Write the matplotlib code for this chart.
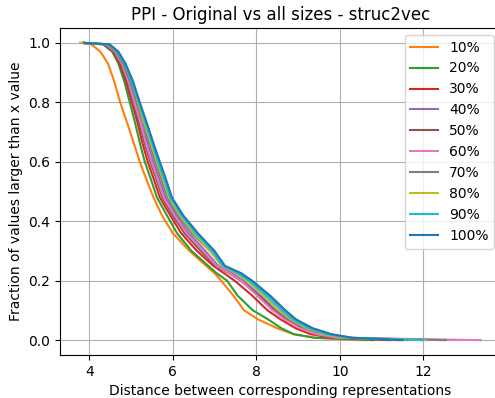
import matplotlib
matplotlib.use('Agg')
import matplotlib.pyplot as plt

# fraction levels and the x value where each curve crosses them
levels = [1.0, 0.995, 0.97, 0.93, 0.87, 0.8, 0.73, 0.67, 0.6, 0.54, 0.48, 0.42,
          0.36, 0.3, 0.25, 0.225, 0.2, 0.15, 0.1, 0.07, 0.04, 0.02, 0.008, 0.0]

sizes = ['10%', '20%', '30%', '40%', '50%', '60%', '70%', '80%', '90%', '100%']
colors = ['C1', 'C2', 'C3', 'C4', 'C5', 'C6', 'C7', 'C8', 'C9', 'C0']

x_10 = [3.78, 4.05, 4.27, 4.45, 4.6, 4.74, 4.91, 5.05, 5.21, 5.37, 5.54, 5.74,
        6.0, 6.4, 6.8, 7.0, 7.16, 7.45, 7.71, 8.04, 8.5, 8.9, 9.4, 10.6]
x_20 = [3.85, 4.33, 4.55, 4.7, 4.84, 4.97, 5.1, 5.2, 5.33, 5.48, 5.62, 5.86,
        6.1, 6.45, 6.85, 7.05, 7.3, 7.55, 7.92, 8.28, 8.6, 8.9, 9.4, 10.8]
x_30 = [3.85, 4.36, 4.58, 4.73, 4.88, 5.02, 5.16, 5.26, 5.40, 5.55, 5.69, 5.94,
        6.2, 6.58, 6.97, 7.23, 7.48, 7.90, 8.27, 8.58, 8.94, 9.3, 9.8, 11.2]
x_40 = [3.85, 4.42, 4.63, 4.79, 4.96, 5.10, 5.25, 5.38, 5.53, 5.68, 5.82, 6.08,
        6.38, 6.78, 7.09, 7.43, 7.69, 8.10, 8.47, 8.75, 9.13, 9.53, 10.03, 11.6]
x_50 = [3.86, 4.39, 4.60, 4.76, 4.91, 5.05, 5.20, 5.31, 5.46, 5.61, 5.75, 6.0,
        6.28, 6.67, 7.03, 7.35, 7.63, 8.06, 8.43, 8.72, 9.09, 9.49, 9.99, 11.4]
x_60 = [3.85, 4.40, 4.62, 4.78, 4.94, 5.08, 5.23, 5.34, 5.49, 5.64, 5.78, 6.04,
        6.33, 6.73, 7.05, 7.37, 7.64, 8.02, 8.39, 8.68, 9.05, 9.44, 9.94, 13.38]
x_70 = [3.86, 4.43, 4.65, 4.81, 4.98, 5.14, 5.30, 5.42, 5.58, 5.73, 5.87, 6.13,
        6.45, 6.89, 7.21, 7.61, 7.88, 8.31, 8.68, 8.93, 9.33, 9.77, 10.27, 12.54]
x_80 = [3.78, 4.48, 4.69, 4.86, 5.04, 5.17, 5.32, 5.46, 5.62, 5.77, 5.91, 6.17,
        6.5, 6.89, 7.17, 7.52, 7.78, 8.17, 8.54, 8.82, 9.2, 9.62, 10.12, 12.05]
x_90 = [3.88, 4.47, 4.68, 4.85, 5.02, 5.19, 5.35, 5.49, 5.65, 5.80, 5.94, 6.21,
        6.55, 6.95, 7.2, 7.57, 7.83, 8.24, 8.61, 8.87, 9.26, 9.69, 10.19, 12.0]
x_100 = [3.88, 4.49, 4.7, 4.87, 5.05, 5.21, 5.38, 5.52, 5.69, 5.84, 5.98, 6.25,
         6.6, 7.0, 7.25, 7.64, 7.9, 8.33, 8.7, 8.95, 9.35, 9.8, 10.3, 11.5]

curves = [x_10, x_20, x_30, x_40, x_50, x_60, x_70, x_80, x_90, x_100]

fig = plt.figure(figsize=(4.95, 3.98), dpi=100)
ax = fig.add_axes([60/495, 43/398, 441/495, 327/398])

for xs, lab, c in zip(curves, sizes, colors):
    ax.plot(xs, levels, color=c, label=lab, linewidth=1.5)

ax.set_title('PPI - Original vs all sizes - struc2vec')
ax.set_xlabel('Distance between corresponding representations')
ax.set_ylabel('Fraction of values larger than x value')
ax.grid(True)
ax.legend(loc='upper right')

fig.savefig('out.png', dpi=100)
